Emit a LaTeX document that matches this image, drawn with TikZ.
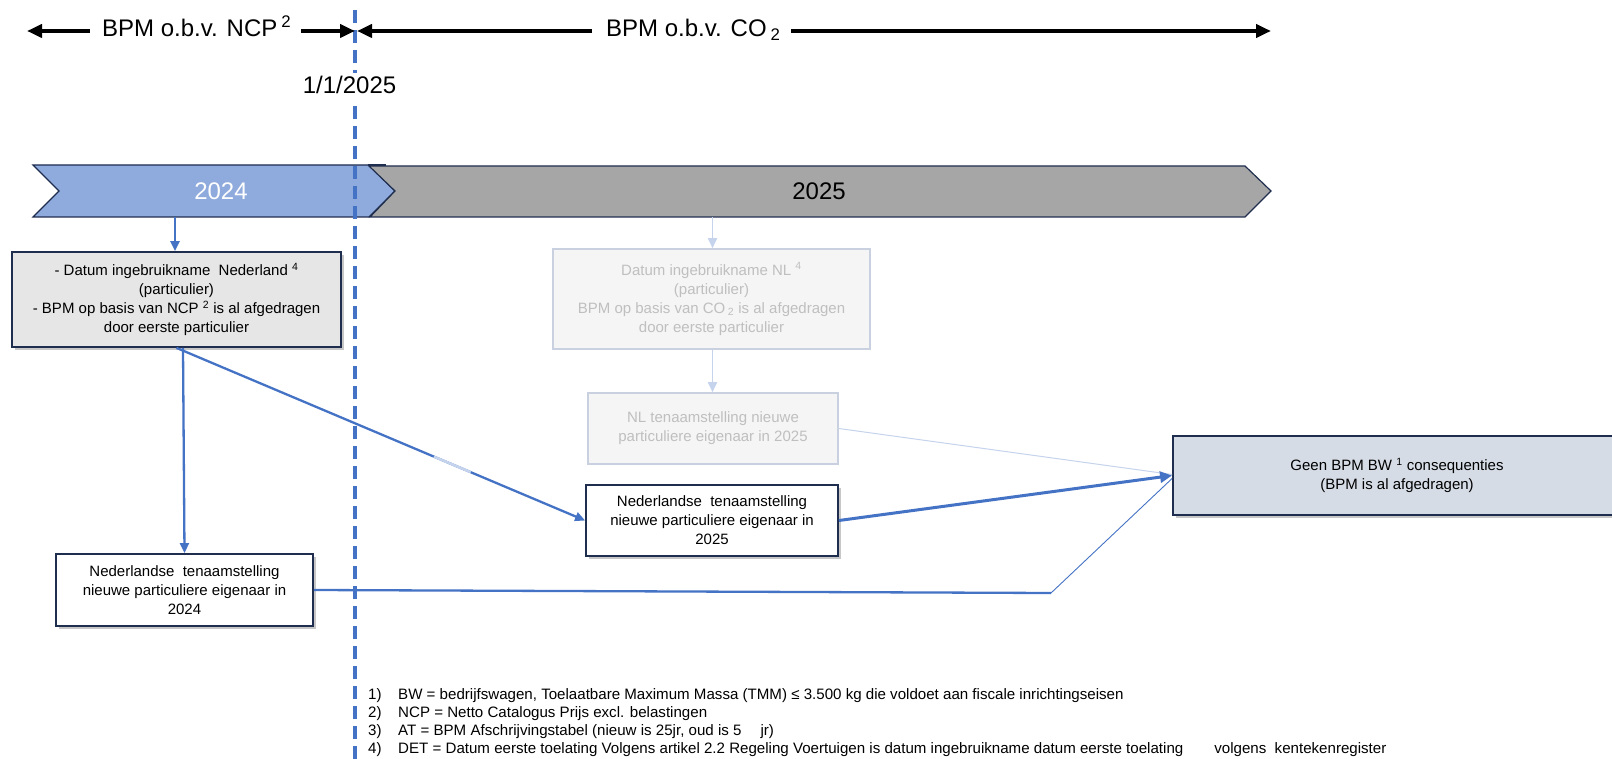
\documentclass[tikz,border=0pt]{standalone}
\usepackage{fontspec}
\setmainfont{Liberation Sans}
\usetikzlibrary{arrows.meta,shadows,calc}
\definecolor{cblue}{HTML}{4472C4}
\definecolor{navy}{HTML}{1F2D4E}
\definecolor{chevblue}{HTML}{8FAADC}
\definecolor{chevgray}{HTML}{A6A6A6}
\definecolor{boxgray}{HTML}{E6E6E6}
\definecolor{boxblue}{HTML}{D6DCE5}
\definecolor{fadeline}{HTML}{C5D3EC}
\definecolor{fadeborder}{HTML}{C9D0E0}
\definecolor{fadefill}{HTML}{F5F5F5}
\definecolor{fadetext}{HTML}{BFBFBF}
\begin{document}
\begin{tikzpicture}[x=1pt,y=-1pt,
  boxtext/.style={font=\fontsize{15}{19}\selectfont, align=center, inner sep=0pt},
  solidbox/.style={boxtext, draw=navy, line width=1.8pt,
    drop shadow={shadow xshift=3pt, shadow yshift=-3pt, opacity=0.22, fill=black}},
  fadebox/.style={boxtext, draw=fadeborder, line width=1.6pt, fill=fadefill, text=fadetext},
  toptext/.style={font=\fontsize{24}{28}\selectfont, inner sep=0pt},
  bigarrow/.style={line width=4pt, -{Triangle[length=15pt,width=13pt]}},
  conn/.style={draw=cblue, line width=2.3pt, -{Triangle[length=10pt,width=9pt]}},
  fadeconn/.style={draw=fadeline, line width=1.8pt, -{Triangle[length=10pt,width=9pt]}},
  chevron/.style={draw=navy, line width=1.2pt},
  dateline/.style={cblue, line width=3.2pt, dash pattern=on 13pt off 7pt},
  fnote/.style={font=\fontsize{15.1}{18}\selectfont, inner sep=0pt, anchor=base west}
]
\useasboundingbox (0,0) rectangle (1612,759);

% ---- chevrons
\filldraw[chevron, fill=chevblue] (33,165) -- (369,165) -- (395,191) -- (369,217) -- (33,217) -- (59,191) -- cycle;
\filldraw[chevron, fill=chevgray] (369,166) -- (1245,166) -- (1271,191) -- (1245,217) -- (370,217) -- (395,191) -- cycle;
\draw[chevron] (368,165) -- (386,165);
\node[toptext, anchor=base, text=white] (y24) at (221,200) {2024};
\node[toptext, anchor=base] (y25) at (819,200) {2025};
\coordinate (c24b) at (175,217);
\coordinate (c25b) at (712.5,217);

% ---- date line
\draw[dateline] (355,10) -- (355,73);
\draw[dateline] (355,106) -- (355,759);
\node[toptext, anchor=base] (date) at (349.5,94) {1/1/2025};

% ---- top arrows
\node[toptext, anchor=base west] (ncp) at (102,37) {BPM o.b.v. NCP\,\textsuperscript{2}};
\node[toptext, anchor=base west] (co) at (606,37) {BPM o.b.v. CO\,\textsubscript{2}};
\coordinate (a1s) at (90,31);   \coordinate (a1e) at (27,31);
\coordinate (a2s) at (301,31);  \coordinate (a2e) at (355,31);
\coordinate (a3s) at (592,31);  \coordinate (a3e) at (357,31);
\coordinate (a4s) at (791,31);  \coordinate (a4e) at (1271,31);
\draw[bigarrow] (a1s) -- (a1e);
\draw[bigarrow] (a2s) -- (a2e);
\draw[bigarrow] (a3s) -- (a3e);
\draw[bigarrow] (a4s) -- (a4e);

% ---- boxes
\node[solidbox, fill=boxgray, minimum width=329pt, minimum height=95pt] (A) at (176.5,299.5)
  {- Datum ingebruikname\ \ Nederland \textsuperscript{4}\\(particulier)\\- BPM op basis van NCP \textsuperscript{2} is al afgedragen\\door eerste particulier};
\node[solidbox, fill=white, minimum width=257pt, minimum height=72pt] (B) at (184.5,590)
  {Nederlandse\ \ tenaamstelling\\nieuwe particuliere eigenaar in\\2024};
\node[solidbox, fill=white, minimum width=252pt, minimum height=71pt] (C) at (712,520.5)
  {Nederlandse\ \ tenaamstelling\\nieuwe particuliere eigenaar in\\2025};
\node[fadebox, minimum width=317pt, minimum height=100pt] (D1) at (711.5,299)
  {Datum ingebruikname NL \textsuperscript{4}\\(particulier)\\BPM op basis van CO\,\textsubscript{2} is al afgedragen\\door eerste particulier};
\node[fadebox, minimum width=250pt, minimum height=71pt] (D2) at (713,428.5)
  {NL tenaamstelling nieuwe\\particuliere eigenaar in 2025};
\node[solidbox, fill=boxblue, minimum width=448pt, minimum height=79pt] (E) at (1397,475.5)
  {Geen BPM BW \textsuperscript{1} consequenties\\(BPM is al afgedragen)};

% ---- connectors
\draw[conn] (c24b) -- (A.north -| c24b);
\draw[fadeconn] (c25b) -- (D1.north -| c25b);
\draw[fadeconn] (D1.south -| c25b) -- (D2.north -| c25b);
\draw[conn] ([xshift=6.5pt]A.south) -- (B.north);
\draw[conn] (A.south) -- (C.west);
\draw[fadeline, line width=2.5pt] ($(A.south)!0.63!(C.west)$) -- ($(A.south)!0.72!(C.west)$);
\draw[fadeline, line width=1pt] (D2.east) -- ([yshift=1pt]E.west);
\coordinate (bend) at (1051,593);
\draw[cblue, line width=2.3pt] (B.east) -- (bend);
\draw[cblue, line width=0.9pt] (bend) -- ([yshift=-3pt]E.west);
\draw[cblue, line width=3pt, -{Triangle[length=12pt,width=11pt]}] (C.east) -- (E.west);

% ---- footnotes
\node[fnote] (n1) at (368,699) {1)};
\node[fnote] (t1) at (398,699) {BW = bedrijfswagen, Toelaatbare Maximum Massa (TMM) ≤ 3.500 kg die voldoet aan fiscale inrichtingseisen};
\node[fnote] (n2) at (368,717) {2)};
\node[fnote] (t2) at (398,717) {NCP = Netto Catalogus Prijs excl. belastingen};
\node[fnote] (n3) at (368,735) {3)};
\node[fnote] (t3) at (398,735) {AT = BPM Afschrijvingstabel (nieuw is 25jr, oud is 5\hspace{19pt}jr)};
\node[fnote] (n4) at (368,753) {4)};
\node[fnote] (t4) at (398,753) {DET = Datum eerste toelating Volgens artikel 2.2 Regeling Voertuigen is datum ingebruikname datum eerste toelating\hspace{31pt}volgens\ \ kentekenregister};
\end{tikzpicture}
\end{document}
